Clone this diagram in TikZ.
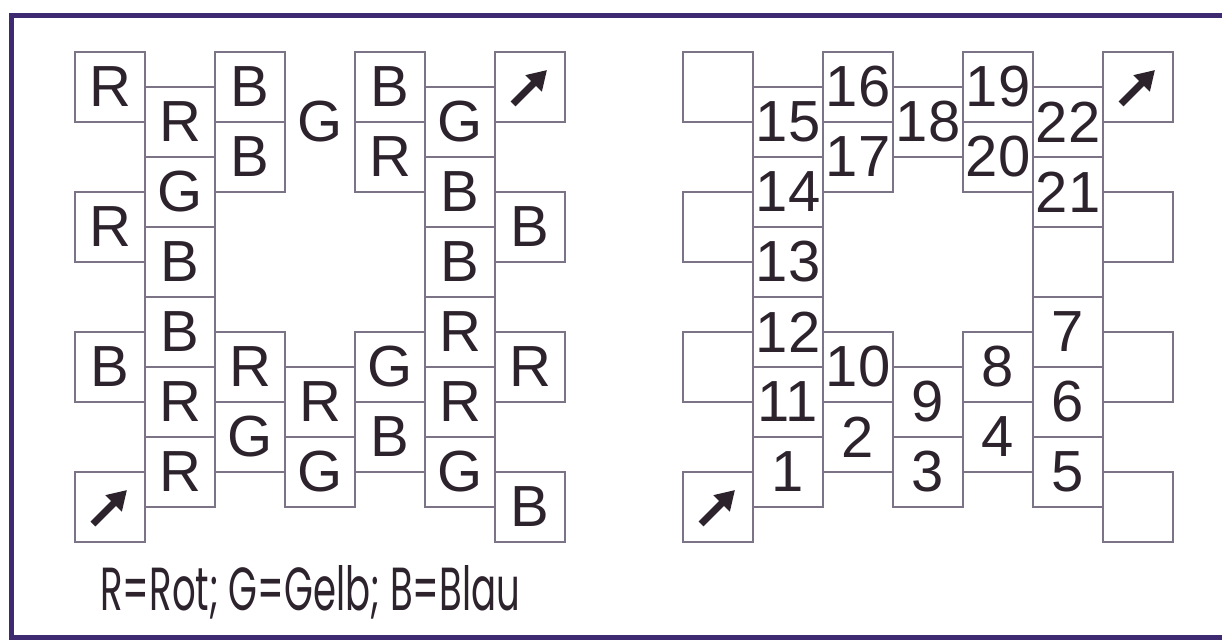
\documentclass[tikz,border=0pt]{standalone}
\usepackage{fontspec}
\usepackage{graphicx}
\setmainfont{Liberation Sans}
\newfontfamily\legendfont{Poppins}
\usetikzlibrary{arrows.meta,calc}
\definecolor{boxline}{RGB}{125,115,135}
\definecolor{ink}{RGB}{45,35,45}
\definecolor{framecol}{RGB}{62,42,112}
\tikzset{
  cell/.style={draw=boxline, line width=1.5pt, minimum width=70pt, minimum height=70pt,
    inner sep=0pt, text=ink, font=\fontsize{58}{58}\selectfont},
  opencell/.style={cell, draw=none},
  pointer/.style={ink, line width=7pt, -{Triangle[length=19pt,width=22pt]}},
  legendtext/.style={anchor=base west, inner sep=0pt, text=ink}
}
\begin{document}
\begin{tikzpicture}[x=1pt,y=-1pt]
\useasboundingbox (0,0) rectangle (1222,640);
% left panel
\foreach \c/\k/\t in {1/0/R,1/2/R,1/4/B,1/6/{},
  2/0/R,2/1/G,2/2/B,2/3/B,2/4/R,2/5/R,
  3/0/B,3/1/B,3/4/R,3/5/G,
  4/4/R,4/5/G,
  5/0/B,5/1/R,5/4/G,5/5/B,
  6/0/G,6/1/B,6/2/B,6/3/R,6/4/R,6/5/G,
  7/0/{},7/2/B,7/4/R,7/6/B}
  \node[cell] (L\c-\k) at ({110+70*(\c-1)},{87+70*\k+35*(1-mod(\c,2))}) {\t};
\node[opencell] (L4-0) at (320,122) {G};
% right panel
\foreach \c/\k/\t in {1/0/{},1/2/{},1/4/{},1/6/{},
  2/0/15,2/1/14,2/2/13,2/3/12,2/4/11,2/5/1,
  3/0/16,3/1/17,3/4/10,3/5/2,
  4/0/18,4/4/9,4/5/3,
  5/0/19,5/1/20,5/4/8,5/5/4,
  6/0/22,6/1/21,6/2/{},6/3/7,6/4/6,6/5/5,
  7/0/{},7/2/{},7/4/{},7/6/{}}
  \node[cell] (R\c-\k) at ({718+70*(\c-1)},{87+70*\k+35*(1-mod(\c,2))}) {\t};
% arrows
\foreach \n in {L1-6,L7-0,R1-6,R7-0}
  \draw[pointer] ($(\n)+(-17,17)$) -- ($(\n)+(17,-17)$);
% legend
\node[legendtext] (legend) at (100,610) {\resizebox{420pt}{45pt}{\legendfont R=Rot; G=Gelb; B=Blau}};
% frame
\draw[framecol, line width=5pt] (11,15) rectangle (1240,637);
\end{tikzpicture}
\end{document}
